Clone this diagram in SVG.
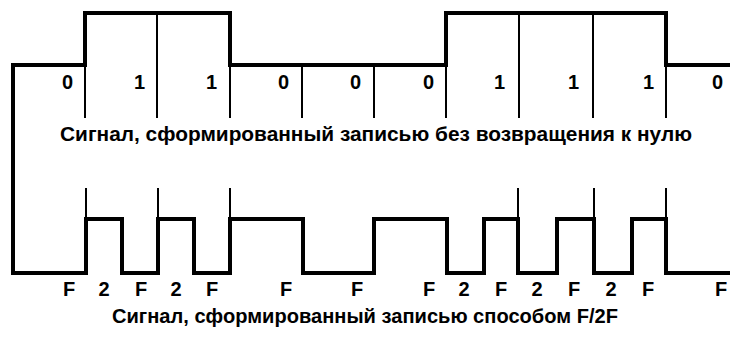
<svg xmlns="http://www.w3.org/2000/svg" width="730" height="340" viewBox="0 0 730 340">
<style>
.thick{fill:none;stroke:#000;stroke-width:4;stroke-linejoin:miter;stroke-linecap:square}
.thin{fill:none;stroke:#000;stroke-width:2}
.lbl{font-family:"Liberation Sans",Arial,sans-serif;font-weight:bold;font-size:20px;fill:#000}
.cap{font-family:"Liberation Sans",Arial,sans-serif;font-weight:bold;font-size:20px;fill:#000}
</style>
<g id="connectors">
<g id="nrz-signal">
<path class="thick" d="M13,273 L13,65 L85,65 L85,13 L230,13 L230,65 L446,65 L446,13 L666,13 L666,65 L732,65"/>
</g>
<g id="nrz-bit-lines">
<path class="thin" d="M85,65 V118 M157,13 V118 M230,65 V118 M302,65 V118 M374,65 V118 M446,65 V118 M519,13 V118 M593,13 V118 M666,65 V118"/>
</g>
<g id="f2f-signal">
<path class="thick" d="M13,273 L86,273 L86,219 L122,219 L122,273 L158,273 L158,219 L194,219 L194,273 L230,273 L230,219 L303,219 L303,273 L374,273 L374,219 L447,219 L447,273 L484,273 L484,219 L518,219 L518,273 L557,273 L557,219 L594,219 L594,273 L632,273 L632,219 L666,219 L666,273 L732,273"/>
</g>
<g id="f2f-bit-lines">
<path class="thin" d="M86,188 V219 M158,188 V219 M230,188 V219 M518,188 V219 M594,188 V219 M666,188 V219"/>
</g>
</g>
<g id="nrz-labels" class="lbl" text-anchor="end">
<text x="73" y="89">0</text>
<text x="145" y="89">1</text>
<text x="217" y="89">1</text>
<text x="289" y="89">0</text>
<text x="361" y="89">0</text>
<text x="434" y="89">0</text>
<text x="505" y="89">1</text>
<text x="579" y="89">1</text>
<text x="654" y="89">1</text>
<text x="723" y="89">0</text>
</g>
<g id="f2f-labels" class="lbl" text-anchor="middle">
<text x="69" y="296">F</text>
<text x="104" y="296">2</text>
<text x="141" y="296">F</text>
<text x="176" y="296">2</text>
<text x="212" y="296">F</text>
<text x="286" y="296">F</text>
<text x="357" y="296">F</text>
<text x="429" y="296">F</text>
<text x="464" y="296">2</text>
<text x="501" y="296">F</text>
<text x="537" y="296">2</text>
<text x="574" y="296">F</text>
<text x="611" y="296">2</text>
<text x="648" y="296">F</text>
<text x="721" y="296">F</text>
</g>
<g id="caption-nrz">
<text class="cap" x="60" y="141" textLength="632" lengthAdjust="spacingAndGlyphs">Сигнал, сформированный записью без возвращения к нулю</text>
</g>
<g id="caption-f2f">
<text class="cap" x="112" y="323" textLength="506" lengthAdjust="spacingAndGlyphs">Сигнал, сформированный записью способом F/2F</text>
</g>
</svg>
